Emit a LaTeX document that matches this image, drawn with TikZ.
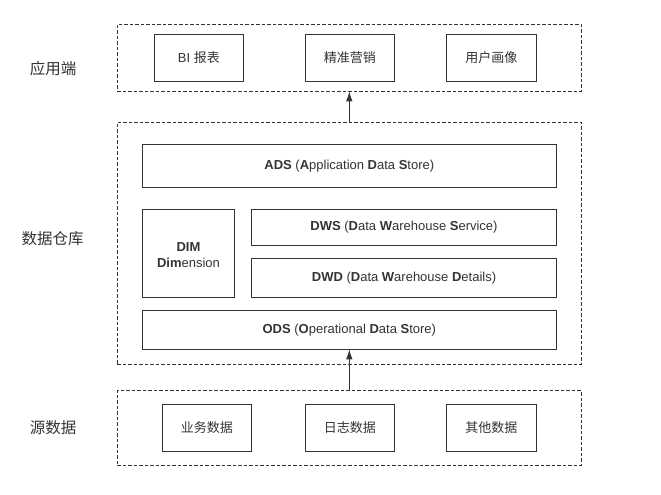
\documentclass[tikz,border=0pt]{standalone}
\usepackage{fontspec}
\setmainfont{Liberation Sans}
\newfontfamily\cjk{Noto Sans CJK SC}
\usetikzlibrary{arrows.meta}
\definecolor{linec}{HTML}{333333}
\definecolor{textc}{HTML}{333333}
\tikzset{
  box/.style={draw=linec, line width=1pt, rectangle, inner sep=0pt, outer sep=0pt,
    text=textc, font=\fontsize{13}{16}\selectfont, align=center},
  group/.style={draw=linec, line width=0.9pt, dash pattern=on 3.5pt off 2pt,
    rectangle, inner sep=0pt, outer sep=0pt},
  sidelabel/.style={text=textc, font=\fontsize{15.5}{18}\selectfont\cjk, inner sep=0pt},
  arr/.style={draw=linec, line width=1pt, -{Latex[length=10pt,width=6.5pt]}},
}
\begin{document}
\begin{tikzpicture}[x=1pt,y=-1pt]
\useasboundingbox (0,0) rectangle (661,495);
% groups
\node[group, minimum width=464pt, minimum height=67pt] (top) at (349.3,57.8) {};
\node[group, minimum width=464pt, minimum height=242pt] (mid) at (349.3,243.3) {};
\node[group, minimum width=464pt, minimum height=74.6pt] (bot) at (349.3,428) {};
% side labels
\node[sidelabel] (l1) at (53,69) {应用端};
\node[sidelabel] (l2) at (52.5,238.3) {数据仓库};
\node[sidelabel] (l3) at (53,428) {源数据};
% top boxes
\node[box, minimum width=89.4pt, minimum height=47pt] (bi) at (198.9,57.8) {BI {\cjk 报表}};
\node[box, minimum width=89.4pt, minimum height=47pt] (jz) at (349.75,57.8) {\cjk 精准营销};
\node[box, minimum width=89.4pt, minimum height=47pt] (yh) at (491.35,57.8) {\cjk 用户画像};
% warehouse
\node[box, minimum width=414pt, minimum height=43pt] (ads) at (349.3,165.8)
  {\textbf{ADS} (\textbf{A}pplication \textbf{D}ata \textbf{S}tore)};
\node[box, minimum width=92.4pt, minimum height=88.2pt] (dim) at (188.5,253.4)
  {\rule{0pt}{12.5pt}\textbf{DIM}\\\textbf{Dim}ension};
\node[box, minimum width=304.6pt, minimum height=36pt] (dws) at (404,227.3)
  {\textbf{DWS} (\textbf{D}ata \textbf{W}arehouse \textbf{S}ervice)};
\node[box, minimum width=304.6pt, minimum height=39pt] (dwd) at (404,277.8)
  {\textbf{DWD} (\textbf{D}ata \textbf{W}arehouse \textbf{D}etails)};
\node[box, minimum width=414pt, minimum height=38.6pt] (ods) at (349.3,330)
  {\textbf{ODS} (\textbf{O}perational \textbf{D}ata \textbf{S}tore)};
% source boxes
\node[box, minimum width=89.4pt, minimum height=47pt] (yw) at (206.9,427.8) {\cjk 业务数据};
\node[box, minimum width=89.4pt, minimum height=47pt] (rz) at (349.75,427.8) {\cjk 日志数据};
\node[box, minimum width=89.4pt, minimum height=47pt] (qt) at (491.35,427.8) {\cjk 其他数据};
% arrows
\draw[arr] (mid.north) -- (top.south);
\draw[arr] (bot.north) -- (ods.south);
\end{tikzpicture}
\end{document}
